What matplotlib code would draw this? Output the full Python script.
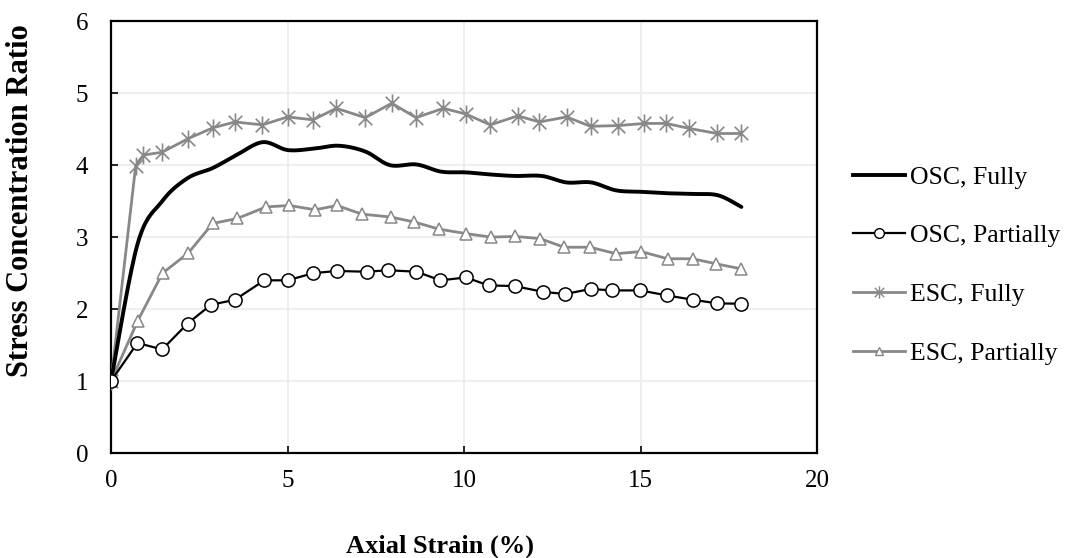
import numpy as np
import matplotlib
matplotlib.use('Agg')
import matplotlib.pyplot as plt
from matplotlib.lines import Line2D
from matplotlib.path import Path

plt.rcParams['font.family'] = ['Liberation Serif', 'DejaVu Serif']

# OSC, Fully (smoothed line, no markers)
osc_full_x = [0, 0.75, 1.45, 2.17, 2.88, 3.55, 4.3, 5.0, 5.75, 6.45, 7.2, 7.9, 8.65,
              9.35, 10.05, 10.75, 11.45, 12.2, 12.9, 13.6, 14.3, 15.0, 15.75, 16.5, 17.2, 17.85]
osc_full_y = [1.0, 2.9, 3.5, 3.82, 3.96, 4.14, 4.32, 4.21, 4.23, 4.27, 4.19, 4.0, 4.01,
              3.91, 3.90, 3.87, 3.85, 3.85, 3.76, 3.76, 3.65, 3.63, 3.61, 3.60, 3.58, 3.42]

# OSC, Partially
osc_part_x = [0, 0.75, 1.45, 2.17, 2.83, 3.51, 4.34, 5.0, 5.73, 6.39, 7.24, 7.85, 8.65,
              9.33, 10.05, 10.69, 11.43, 12.24, 12.86, 13.58, 14.19, 14.99, 15.75, 16.48, 17.17, 17.85]
osc_part_y = [1.0, 1.53, 1.44, 1.80, 2.06, 2.13, 2.40, 2.40, 2.50, 2.53, 2.52, 2.54, 2.52,
              2.40, 2.44, 2.33, 2.32, 2.24, 2.21, 2.28, 2.26, 2.26, 2.19, 2.13, 2.08, 2.075]

# ESC, Fully
esc_full_x = [0, 0.70, 0.92, 1.45, 2.19, 2.89, 3.51, 4.29, 5.0, 5.72, 6.38, 7.2, 7.95, 8.64,
              9.41, 10.05, 10.74, 11.52, 12.13, 12.9, 13.58, 14.37, 15.1, 15.72, 16.38, 17.16, 17.83]
esc_full_y = [1.0, 3.99, 4.14, 4.18, 4.37, 4.52, 4.60, 4.56, 4.67, 4.63, 4.79, 4.66, 4.86, 4.66,
              4.79, 4.71, 4.56, 4.685, 4.60, 4.67, 4.54, 4.55, 4.58, 4.58, 4.51, 4.44, 4.44]

# ESC, Partially
esc_part_x = [0, 0.76, 1.46, 2.19, 2.88, 3.58, 4.39, 5.05, 5.78, 6.4, 7.1, 7.92, 8.59,
              9.3, 10.05, 10.76, 11.44, 12.15, 12.83, 13.57, 14.3, 15.01, 15.76, 16.47, 17.13, 17.84]
esc_part_y = [1.0, 1.84, 2.50, 2.78, 3.19, 3.26, 3.42, 3.44, 3.38, 3.44, 3.32, 3.28, 3.21,
              3.11, 3.05, 3.0, 3.01, 2.98, 2.86, 2.86, 2.77, 2.80, 2.70, 2.70, 2.63, 2.56]

labels = ['OSC, Fully', 'OSC, Partially', 'ESC, Fully', 'ESC, Partially']
gray = '#888888'

# Excel style asterisk: vertical bar + X
star = Path([(0, -1), (0, 1), (-0.75, -0.75), (0.75, 0.75), (-0.75, 0.75), (0.75, -0.75)],
            [Path.MOVETO, Path.LINETO] * 3)


def smooth(x, y, n=20):
    # Excel-like smoothed line (Bezier through the points)
    p = np.column_stack([x, y]).astype(float)
    out = [p[0]]
    t = np.linspace(0, 1, n)[1:, None]
    for i in range(len(p) - 1):
        p0 = p[max(i - 1, 0)]; p1 = p[i]; p2 = p[i + 1]; p3 = p[min(i + 2, len(p) - 1)]
        c1 = p1 + (p2 - p0) / 6
        c2 = p2 - (p3 - p1) / 6
        seg = (1-t)**3*p1 + 3*(1-t)**2*t*c1 + 3*(1-t)*t**2*c2 + t**3*p2
        out.extend(seg)
    out = np.array(out)
    return out[:, 0], out[:, 1]


fig = plt.figure(figsize=(10.67, 5.58), dpi=100)
ax = fig.add_axes([0.104, 0.188, 0.662, 0.774])

sx, sy = smooth(osc_full_x, osc_full_y)
ax.plot(sx, sy, color='black', lw=2.8, solid_capstyle='round', zorder=4)
ax.plot(esc_full_x, esc_full_y, color=gray, lw=2.0, marker=star, ms=13,
        mfc='none', mec=gray, mew=1.2, zorder=3)
ax.plot(esc_part_x, esc_part_y, color=gray, lw=2.0, marker='^', ms=8.5,
        mfc='white', mec=gray, mew=1.1, zorder=3)
ax.plot(osc_part_x, osc_part_y, color='black', lw=1.6, marker='o', ms=9.5,
        mfc='white', mec='black', mew=1.1, zorder=5)

ax.set_xlim(0, 20)
ax.set_ylim(0, 6)
ax.set_xticks([0, 5, 10, 15, 20])
ax.set_yticks([0, 1, 2, 3, 4, 5, 6])
ax.grid(True, color='#ebebeb', lw=1.2)
ax.set_axisbelow(True)
for s in ax.spines.values():
    s.set_linewidth(1.6)
ax.tick_params(direction='in', length=5, width=1.2, labelsize=18)
ax.tick_params(axis='x', pad=12.5)
ax.tick_params(axis='y', pad=16.5)

fig.text(440 / 1067, 5 / 558, 'Axial Strain (%)', fontsize=19, fontweight='bold',
         ha='center', va='baseline')
fig.text(21 / 1067, 1 - 201 / 558, 'Stress Concentration Ratio', fontsize=22,
         fontweight='bold', rotation=90, ha='center', va='center')

handles = [
    Line2D([], [], color='black', lw=2.8),
    Line2D([], [], color='black', lw=1.6, marker='o', ms=7, mfc='white', mec='black', mew=1.0),
    Line2D([], [], color=gray, lw=2.0, marker=star, ms=9, mfc='none', mec=gray, mew=1.0),
    Line2D([], [], color=gray, lw=2.0, marker='^', ms=6, mfc='white', mec=gray, mew=1.0),
]
fig.legend(handles, labels, loc='upper left', bbox_to_anchor=(0.7877, 0.726),
           frameon=False, fontsize=18.5, handlelength=2.0, handletextpad=0.2,
           labelspacing=1.39, borderpad=0)

fig.savefig('out.png', dpi=100)
